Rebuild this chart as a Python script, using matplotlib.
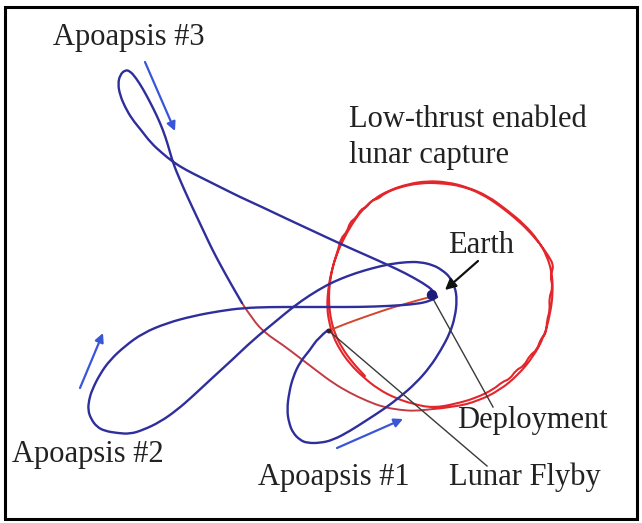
import matplotlib
matplotlib.use("Agg")
import matplotlib.pyplot as plt
from matplotlib.path import Path
from matplotlib.patches import PathPatch, Rectangle, Circle

# ---------------- data (image coordinates, px; y grows downward) ----------------
# blue leg after the lunar flyby: Apoapsis #1 loop -> Apoapsis #2 loop -> perigee
leg1_x = [328, 318, 310, 300, 293, 289, 287, 289, 293, 300, 307, 320, 333, 350, 367, 384, 400,
          416, 430, 441, 450, 455, 457, 455, 450, 442, 433, 420, 407, 390, 373, 356, 340, 327,
          310, 293, 275, 253, 232, 210, 193, 177, 160, 143, 130, 117, 105, 97, 91, 88, 89, 92,
          100, 110, 125, 143, 167, 193, 220, 243, 270, 300, 330, 360, 390, 417, 430, 437]
leg1_y = [330, 338, 350, 362, 377, 393, 410, 423, 433, 440, 443, 443, 440, 431, 420, 409, 397,
          383, 367, 350, 333, 317, 300, 287, 277, 270, 265, 262, 262, 264, 268, 273, 279, 285,
          295, 307, 322, 340, 360, 380, 396, 410, 422, 430, 434, 433, 431, 427, 419, 410, 400, 390,
          374, 360, 346, 333, 323, 316, 311, 308, 307, 307, 307, 307, 306, 304, 301, 297]

# blue leg from perigee out to Apoapsis #3 and back down
leg2_x = [437, 434, 423, 405, 388, 368, 343, 313, 285, 262, 240, 220, 202, 186, 173, 162, 151,
          141, 132, 125, 120, 118, 120, 125, 130, 136, 143, 150, 157, 163, 168, 173, 180,
          188, 196, 204, 212, 221, 231, 242]
leg2_y = [297, 291, 283, 273, 265, 256, 245, 231, 218, 207, 197, 187, 178, 170, 162, 153, 143,
          130, 119, 107, 95, 84, 75, 70, 71, 78, 89, 102, 116, 130, 145, 163, 180,
          198, 215, 232, 249, 266, 284, 303]

# reddish approach into the capture orbit
appr_x = [242, 253, 265, 283, 300, 317, 333, 350, 367, 383, 400, 415, 433]
appr_y = [303, 320, 333, 345, 358, 371, 383, 393, 401, 407, 410, 411, 409]

# low-thrust capture orbit (two laps)
cap_x = [433, 455, 478, 500, 518, 533, 544, 550, 553, 552, 547, 538, 524, 507, 488, 467, 447,
         427, 408, 390, 375, 362, 352, 343, 336, 331, 328, 327, 329, 333, 340, 350, 363, 378,
         395, 413, 433, 455, 476, 494, 502, 510, 516, 524, 530, 537, 541, 546, 547, 550, 549,
         553, 550, 554, 548, 540, 528, 515, 500, 482, 462, 440, 420, 400, 385, 378, 372, 366,
         361, 356, 350, 347, 341, 338, 334, 331, 329, 329, 331, 335, 342, 352, 365]
cap_y = [409, 407, 401, 390, 375, 357, 337, 315, 293, 273, 256, 240, 224, 210, 196, 187, 182,
         181, 184, 190, 198, 210, 224, 240, 256, 273, 290, 307, 322, 336, 350, 364, 377, 389,
         398, 404, 408, 404, 398, 389, 382, 379, 370, 366, 355, 350, 338, 334, 320, 310, 298,
         287, 276, 266, 255, 244, 230, 218, 206, 194, 186, 183, 183, 187, 193, 199, 200, 208,
         209, 218, 222, 232, 238, 250, 262, 275, 290, 305, 320, 334, 348, 362, 376]

# red transfer from deployment (Earth) to the lunar flyby
dep_x = [430, 400, 370, 345, 328]
dep_y = [297, 305, 315, 324, 331]

earth_xy = (432, 295)
flyby_xy = (329, 331)

# direction arrows (start, end)
dir_arrows = [((145, 62), (175, 131)), ((80, 388), (103, 333)), ((337, 448), (403, 419))]

labels = ["Apoapsis #3", "Low-thrust enabled", "lunar capture", "Earth",
          "Deployment", "Apoapsis #2", "Apoapsis #1", "Lunar Flyby"]
label_xy = [(53, 45), (349, 127), (349, 163), (448, 253),
            (457, 428), (12, 462), (258, 485), (449, 485)]

# ---------------- drawing ----------------
W, H = 642, 523
fig = plt.figure(figsize=(W / 100, H / 100), dpi=100)
ax = fig.add_axes([0, 0, 1, 1])
ax.set_xlim(0, W)
ax.set_ylim(H, 0)
ax.axis("off")


def smooth(xs, ys, **kw):
    pts = list(zip(xs, ys))
    verts = [pts[0]]
    codes = [Path.MOVETO]
    for i in range(1, len(pts) - 1):
        mid = ((pts[i][0] + pts[i + 1][0]) / 2, (pts[i][1] + pts[i + 1][1]) / 2)
        verts += [pts[i], mid]
        codes += [Path.CURVE3, Path.CURVE3]
    verts.append(pts[-1])
    codes.append(Path.LINETO)
    ax.add_patch(PathPatch(Path(verts, codes), fill=False, capstyle="round",
                           joinstyle="round", **kw))


red = "#e3262b"
blue = "#2e2e9c"

smooth(cap_x, cap_y, edgecolor=red, lw=1.5, zorder=2)
smooth(appr_x, appr_y, edgecolor="#c23a44", lw=1.4, zorder=2)
smooth(dep_x, dep_y, edgecolor="#d2452e", lw=1.4, zorder=2)
smooth(leg1_x, leg1_y, edgecolor=blue, lw=1.7, zorder=3)
smooth(leg2_x, leg2_y, edgecolor=blue, lw=1.7, zorder=3)

# annotation lines
ax.plot([earth_xy[0], 493], [earth_xy[1] + 2, 407], color="#3a3a3a", lw=1.0, zorder=4)
ax.plot([flyby_xy[0], 487], [flyby_xy[1], 466], color="#3a3a3a", lw=1.0, zorder=4)
ax.annotate("", xy=(445, 290), xytext=(478, 261),
            arrowprops=dict(arrowstyle="-|>", color="#111111", lw=1.6,
                            mutation_scale=16, shrinkA=0, shrinkB=0), zorder=5)

ax.add_patch(Circle(earth_xy, 4.5, facecolor="#1c1c7a", edgecolor="#1c1c7a", zorder=5))
ax.add_patch(Circle(flyby_xy, 2.5, facecolor="#402020", edgecolor="none", zorder=5))

for (s, e) in dir_arrows:
    ax.annotate("", xy=e, xytext=s,
                arrowprops=dict(arrowstyle="-|>", color="#3a56d8", lw=1.6,
                                mutation_scale=13, shrinkA=0, shrinkB=0), zorder=5)

for t, (x, y) in zip(labels, label_xy):
    ax.text(x, y, t, fontsize=22, family="Liberation Serif", color="#222222",
            ha="left", va="baseline", zorder=6)

ax.add_patch(Rectangle((5, 7), 632, 512, fill=False, edgecolor="black", lw=2.2, zorder=7))

fig.savefig("out.png", dpi=100)
